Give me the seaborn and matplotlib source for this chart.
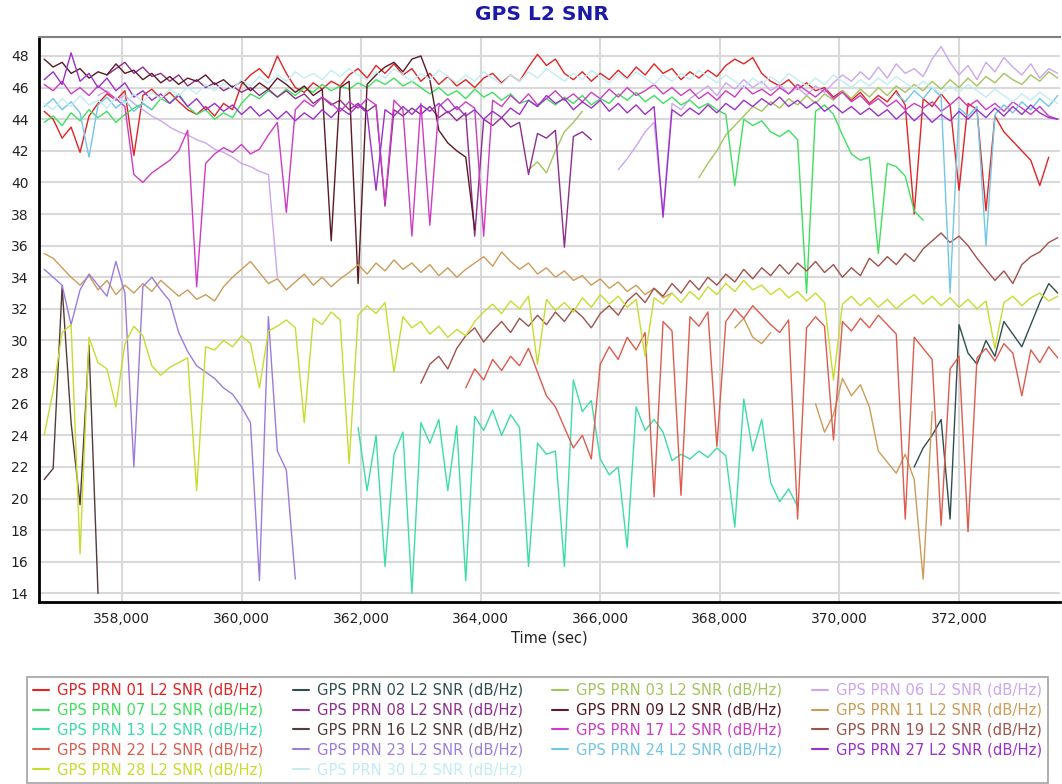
import matplotlib
matplotlib.use("Agg")
import matplotlib.pyplot as plt
import pandas as pd
import seaborn as sns
from matplotlib.lines import Line2D
from matplotlib.ticker import MultipleLocator, FuncFormatter

sns.set_style("white")
plt.rcParams['font.family'] = ['DejaVu Sans']

STEP = 150  # seconds between samples

# --- GPS L2 SNR samples (dB/Hz), start time of each pass in seconds of week ---
t01 = 356700
snr01 = [44.5, 44.0, 42.8, 43.5, 41.9, 44.2, 45.0, 45.6, 45.2, 45.8,
         41.7, 45.5, 45.9, 45.3, 45.7, 45.1, 44.6, 44.3, 44.8, 44.2,
         45.0, 44.6, 46.2, 46.8, 47.2, 46.6, 48.0, 46.9, 46.0, 45.7,
         46.3, 45.9, 46.4, 46.1, 46.8, 47.2, 46.6, 47.4, 46.9, 47.5,
         46.8, 47.2, 46.4, 46.9, 46.2, 46.7, 46.1, 46.5, 46.0, 46.6,
         46.9, 46.3, 46.8, 46.4, 47.3, 48.1, 47.4, 47.8, 46.9, 46.5,
         47.0, 46.4, 46.9, 46.5, 47.1, 46.6, 47.3, 46.8, 47.5, 46.9,
         47.2, 46.5, 47.0, 46.6, 47.1, 46.7, 47.4, 47.8, 47.5, 47.9,
         46.9, 46.4, 46.1, 46.5, 45.9, 46.3, 45.8, 46.0, 45.4, 45.8,
         45.2, 45.7, 45.0, 45.5, 45.1, 45.8, 44.9, 38.0, 45.3, 44.8,
         45.6, 44.9, 39.5, 45.0, 44.6, 38.2, 44.2, 43.2, 42.6, 42.0,
         41.4, 39.8, 41.6]

t02 = 371250
snr02 = [22.0, 23.2, 24.0, 25.0, 18.7, 31.0, 29.2, 28.5, 30.0, 29.0,
         31.2, 30.4, 29.6, 31.0, 32.4, 33.6, 33.0]

t03a = 364800
snr03a = [40.8, 41.3, 40.6, 42.0, 43.2, 43.8, 44.5]
t03b = 367650
snr03b = [40.3, 41.2, 42.0, 43.0, 43.6,
          44.2, 44.8, 44.5, 45.1, 44.7, 45.3, 44.9, 45.5,
          45.0, 45.6, 45.2, 45.8, 45.3, 45.9, 45.4, 46.0, 45.5, 46.1,
          45.7, 46.2, 45.8, 46.4, 45.9, 46.5, 46.0, 46.6, 46.1, 46.7,
          46.3, 46.9, 46.5, 46.2, 46.8, 46.4, 47.0, 46.6]

t06a = 357600
snr06a = [45.5, 45.8, 45.2, 45.5, 45.0, 44.6, 44.2, 43.9, 43.5, 43.2,
          43.0, 42.7, 42.5, 42.1, 41.9, 41.6, 41.2, 41.0, 40.7, 40.5, 34.0]
t06b = 366300
snr06b = [40.8, 41.5, 42.3, 43.2,
          43.8, 38.0, 45.0, 44.6, 45.3,
          45.7, 46.1, 45.5, 46.3, 45.9, 46.5, 46.0, 46.4,
          45.8, 46.2, 45.6, 46.0, 45.5, 46.1, 45.7, 46.3, 46.8, 46.4,
          47.0, 46.5, 47.3, 46.6, 47.5, 46.9, 47.2, 46.7, 47.8, 48.6,
          47.6, 46.8, 47.4, 46.5, 47.6, 47.0, 47.9, 47.3, 46.8, 47.5,
          46.6, 47.2, 46.9]

t07 = 356700
snr07 = [43.8, 44.2, 43.6, 44.4, 43.9, 44.6, 44.1, 44.5, 43.8, 44.3,
         44.7, 45.0, 44.6, 45.3, 45.0, 45.6, 44.8, 44.3, 44.6, 44.0,
         44.4, 44.1, 45.0, 45.6, 45.3, 45.8, 45.4, 45.9, 45.5, 46.0,
         45.7, 46.2, 45.8, 46.1, 45.9, 46.3, 46.0, 46.5, 46.2, 46.6,
         46.1, 46.4, 46.0, 45.6, 46.0, 45.5, 45.8, 45.3, 45.9, 45.4,
         45.7, 45.2, 45.6, 45.0, 45.2, 44.8, 45.3, 44.9, 45.4, 45.0,
         45.5, 44.9, 45.3, 45.0, 45.6, 45.2, 45.7, 45.1, 45.5, 45.0,
         45.4, 44.9, 45.2, 44.7, 45.0, 44.6, 44.3, 39.8, 44.0, 43.6,
         43.9, 43.2, 42.9, 43.3, 42.7, 33.0, 44.5, 44.9, 44.3, 43.0,
         41.8, 41.4, 41.6, 35.5, 41.2, 41.0, 40.4, 38.2, 37.6]

t08 = 357750
snr08 = [46.8, 47.2, 47.6, 46.9, 47.3, 46.7,
         46.9, 46.4, 46.8, 46.1, 46.5, 46.0, 46.3, 45.8,
         46.1, 45.7, 46.0, 45.5, 45.9, 45.4, 45.8,
         45.3, 45.6, 45.0, 45.4, 44.9, 45.2, 44.6, 45.0,
         44.5, 44.9, 38.5, 44.6, 44.2, 44.7, 44.3,
         44.8, 44.1, 44.5, 43.9, 44.4, 36.6, 44.0,
         43.6, 44.1, 43.5, 43.8, 40.5,
         43.1, 42.8, 43.3, 35.9, 42.9, 43.2, 42.7]

t09 = 356700
snr09 = [47.8, 47.3, 47.6, 46.9, 47.2, 46.6, 47.0, 46.8, 47.5, 46.9,
         47.1, 46.5, 46.9, 46.3, 46.7, 46.2, 46.6, 46.4, 46.8, 46.2,
         46.5, 46.0, 46.4, 45.8, 46.3, 45.9, 46.6, 46.2, 45.7, 46.1,
         45.5, 45.9, 36.3, 46.0, 46.4, 33.6, 46.2, 46.8, 47.3, 47.6,
         47.0, 47.8, 48.0, 46.5, 43.3, 42.5, 42.0, 41.6, 37.0]

t11a = 356700
snr11a = [35.5, 35.2, 34.6, 34.0, 33.5, 34.1,
          33.2, 33.8, 32.9, 33.5, 33.0,
          33.6, 33.1, 33.8, 33.3, 32.8, 33.2,
          32.6, 32.9, 32.5, 33.4,
          34.0, 34.5, 35.0, 34.3, 33.6,
          33.9, 33.2, 33.7, 34.2, 33.5, 34.0, 33.4, 33.9,
          34.3, 34.8, 34.2, 34.9, 34.4, 35.1, 34.5,
          34.9, 34.3, 34.8, 34.1, 34.6, 34.0, 34.5,
          34.9, 35.3, 34.7, 35.6, 35.0, 34.5, 34.9, 34.2,
          34.6, 34.0, 34.4, 33.8, 34.1, 33.5, 33.9,
          33.3, 33.7, 33.1, 33.5, 32.9, 33.3, 32.7, 33.0]
t11b = 368250
snr11b = [30.8, 31.4, 30.2, 29.8, 30.5]
t11c = 369600
snr11c = [26.0, 24.2, 25.3, 27.6, 26.5, 27.2, 25.8, 23.0, 22.3, 21.6,
          22.8, 21.2, 14.9, 25.5]

t13 = 361950
snr13 = [24.5, 20.5, 24.0, 15.7, 22.8, 24.2, 14.0, 24.8, 23.5, 25.0,
         20.5, 24.6, 14.8, 25.2, 24.3, 25.6, 24.0, 25.3, 24.5, 15.7,
         23.5, 22.8, 23.0, 15.7, 27.5, 25.5, 26.2, 22.5, 21.5, 22.0,
         16.9, 25.8, 24.3, 25.0, 24.2, 22.4, 22.8, 22.5, 23.0, 22.6,
         23.2, 22.7, 18.2, 26.3, 23.0, 25.0, 21.0, 19.8, 20.6, 19.5]

t16 = 356700
snr16 = [21.2, 21.9, 33.4, 24.8, 19.6, 29.7, 14.0]

t17 = 356700
snr17 = [46.2, 45.8, 46.4, 45.6, 46.0, 45.5, 46.1, 45.7, 45.3, 44.8,
         40.5, 40.0, 40.6, 41.0, 41.4, 42.0, 43.3, 33.4, 41.2, 41.8,
         42.2, 41.9, 42.4, 41.8, 42.1, 43.0, 43.8, 38.1, 44.6, 45.2,
         44.8, 45.4, 45.0, 44.5, 45.1, 44.7, 45.3, 44.9, 38.7, 45.2,
         44.6, 36.6, 45.0, 37.3, 44.8, 45.3, 44.6, 45.1, 44.7, 36.6,
         45.2, 44.8, 45.5, 45.0, 45.6, 44.9, 45.3, 45.8, 45.2, 45.6,
         45.1, 45.7, 45.3, 45.9, 45.4, 46.0, 45.5, 45.8, 46.2, 45.6,
         46.0, 45.5, 45.9, 45.3, 45.7, 45.2, 45.8, 45.4, 46.1, 45.6,
         45.9, 45.5, 46.0, 45.6, 46.2, 45.8, 45.4, 45.9, 45.3, 45.7,
         45.1, 45.5, 44.9, 45.3, 44.8, 45.2, 44.6, 45.0, 44.7, 45.1,
         44.5, 44.9, 45.4, 44.8, 45.2, 44.6, 45.0, 44.5, 45.1, 44.7,
         44.3, 44.8, 44.2, 44.0]

t19 = 363000
snr19 = [27.3, 28.5, 29.0, 28.2, 29.5, 30.3,
         30.8, 29.9, 30.6, 31.2, 30.5, 31.4, 30.9, 31.6,
         31.0, 31.8, 31.2, 32.0, 31.5, 30.8, 31.7,
         32.2, 31.6, 32.5, 33.0, 32.4, 33.3, 32.8, 33.6,
         33.0, 33.8, 33.2, 34.0, 33.5, 34.2, 33.7, 34.5,
         33.9, 34.6, 34.1, 34.8, 34.2, 34.9, 34.4, 35.0,
         34.3, 34.8, 34.0, 34.6, 34.1, 35.2, 34.7, 35.3,
         34.8, 35.5, 35.0, 35.8, 36.3, 36.8, 36.2, 36.6,
         36.0, 35.2, 34.5, 33.8, 34.4, 33.6,
         34.8, 35.3, 35.6, 36.2, 36.5]

t22 = 363750
snr22 = [27.0, 28.2, 27.5, 28.8, 28.1, 29.0,
         28.4, 29.5, 28.0, 26.5, 25.8,
         24.5, 23.2, 24.0, 22.5,
         28.5, 29.6, 28.8, 30.2, 29.4,
         30.5, 20.1, 31.2,
         30.6, 20.2, 31.5, 30.9,
         31.8, 23.3, 31.2, 32.0,
         31.4, 32.2, 31.6, 31.0, 30.5, 31.3,
         18.7,
         30.8, 31.5, 30.9, 23.7, 31.2, 30.6,
         31.4, 30.8, 31.6, 31.0, 30.4,
         18.7,
         30.2, 29.5, 28.8,
         18.3,
         28.2, 29.0, 17.9, 28.9,
         29.5, 28.7, 29.8, 29.2, 26.5, 29.4, 28.6, 29.6, 28.9]

t23 = 356700
snr23 = [34.5, 34.0, 33.5, 31.0, 33.2, 34.2, 33.5, 32.8, 35.0, 33.0,
         22.0, 33.4, 34.0, 33.2, 32.5, 30.5, 29.3, 28.4, 28.0, 27.6,
         27.0, 26.6, 25.8, 24.8, 14.8, 31.5, 23.0, 21.8, 14.9]

t24a = 356700
snr24a = [44.8, 45.3, 44.6, 45.1, 44.4, 41.6, 44.9, 45.4, 44.7, 45.2,
          44.5, 45.0, 44.6]
t24b = 370950
snr24b = [45.6, 45.1, 45.8, 45.3, 46.0, 45.4, 33.0, 44.7, 44.2, 44.8,
          36.0, 44.3, 44.9, 44.4, 45.1, 44.6, 45.3, 44.8, 45.5]

t27 = 356700
snr27 = [46.5, 47.0, 46.2, 48.2, 46.4, 46.9, 46.0, 46.6, 45.8, 46.3,
         45.4, 45.8, 45.2, 45.6, 45.0, 45.5, 44.8, 45.3, 44.6, 45.0,
         44.5, 44.9, 44.3, 44.8, 44.2, 44.6, 44.0, 44.5, 43.9, 44.4,
         44.0, 44.6, 44.1, 44.7, 44.3, 44.9, 44.4, 39.5, 44.6, 44.2,
         44.8, 44.3, 44.9, 44.5, 45.0, 44.4, 44.8, 44.2, 44.6, 44.0,
         44.5, 44.1, 44.7, 44.3, 45.2, 44.8, 45.5, 45.0, 45.3, 44.6,
         45.1, 44.7, 45.2, 44.5, 45.0, 44.4, 44.9, 44.3, 44.8, 37.8,
         44.6, 44.2, 44.7, 44.3, 44.9, 44.4, 45.0, 44.6, 45.2, 44.8,
         45.3, 44.9, 45.4, 44.8, 45.2, 44.7, 45.1, 44.5, 44.9, 44.4,
         44.8, 44.3, 44.7, 44.2, 44.6, 44.0, 44.5, 43.9, 44.4, 43.8,
         44.3, 43.9, 44.5, 44.0, 44.6, 44.1, 44.7, 44.2, 44.8, 44.3,
         44.9, 44.4, 44.1, 44.0]

t28 = 356700
snr28 = [24.0, 26.8, 30.5, 31.0, 16.5, 30.2, 28.6, 28.2, 25.8, 29.8,
         30.9, 30.3, 28.4, 27.8, 28.3, 28.6, 28.9, 20.5, 29.6, 29.4,
         30.0, 29.6, 30.3, 29.8, 27.0, 30.6, 30.9, 31.3, 30.8, 24.8,
         31.4, 31.0, 31.8, 31.3, 22.2, 31.6, 32.2, 31.7, 32.4, 28.0,
         31.5, 30.8, 31.2, 30.4, 30.9, 30.2, 30.7, 30.3, 31.2, 31.8,
         32.3, 31.7, 32.5, 32.0, 32.8, 28.5, 32.6, 31.9, 32.4, 31.8,
         32.7, 32.1, 32.9, 32.3, 32.8, 32.1, 32.6, 29.0, 32.7, 32.3,
         33.0, 32.4, 33.1, 32.6, 33.4, 32.9, 33.6, 33.1, 33.8, 33.2,
         33.5, 32.9, 33.3, 32.7, 33.1, 32.5, 33.0, 32.4, 27.5, 32.3,
         32.8, 32.2, 32.7, 32.1, 32.6, 32.0, 32.5, 32.9, 32.3, 32.8,
         32.2, 32.7, 32.1, 32.6, 32.0, 32.5, 29.5, 32.4, 32.8, 32.2,
         32.7, 33.0, 32.5, 32.8]

t30 = 356700
snr30 = [45.0, 44.6, 45.3, 44.8, 45.5, 44.9, 45.2, 44.7, 45.4, 45.0,
         45.6, 45.1, 45.7, 45.3, 45.9, 45.5, 46.0, 45.6, 46.2, 45.8,
         46.3, 45.9, 46.5, 46.1, 46.7, 46.3, 46.8, 46.4, 47.0, 46.6,
         46.9, 46.5, 47.1, 46.7, 47.2, 46.8, 46.5, 47.0, 46.6, 47.2,
         46.8, 46.4, 46.9, 46.5, 47.1, 46.7, 46.3, 46.8, 46.4, 47.0,
         46.6, 46.2, 46.8, 46.4, 47.0, 46.6, 47.2, 46.8, 46.4, 46.9,
         46.5, 47.1, 46.7, 46.3, 46.9, 46.5, 47.0, 46.6, 46.2, 46.8,
         46.4, 46.9, 46.5, 47.1, 46.7, 46.3, 46.8, 46.4, 46.0, 46.6,
         46.2, 46.7, 46.3, 46.9, 46.5, 46.1, 46.6, 46.2, 46.8, 46.4,
         46.0, 46.5, 46.1, 46.6, 46.2, 46.7, 46.3, 45.9, 46.4, 46.0,
         45.6, 46.1, 45.7, 46.2, 45.8, 45.4, 45.9, 45.5, 45.1, 45.6,
         45.2, 45.7, 45.3, 45.0]

prn_order = ["01", "02", "03", "06", "07", "08", "09", "11", "13",
             "16", "17", "19", "22", "23", "24", "27", "28", "30"]
colors = {"01": "#e02424", "02": "#2f4f4f", "03": "#a4c45c", "06": "#cca6ee",
          "07": "#3ee05e", "08": "#8e2e8e", "09": "#5a1a24", "11": "#cc9c58",
          "13": "#3cdcaa", "16": "#553a3a", "17": "#cc3cc4", "19": "#a0524c",
          "22": "#dc5c4e", "23": "#9c7cda", "24": "#72c6e6", "27": "#9c30cc",
          "28": "#c8dc2e", "30": "#c2ecf2"}

segments = [
    ("01", t01, snr01), ("02", t02, snr02), ("03", t03a, snr03a), ("03", t03b, snr03b),
    ("06", t06a, snr06a), ("06", t06b, snr06b), ("07", t07, snr07), ("08", t08, snr08),
    ("09", t09, snr09), ("11", t11a, snr11a), ("11", t11b, snr11b), ("11", t11c, snr11c),
    ("13", t13, snr13), ("16", t16, snr16), ("17", t17, snr17), ("19", t19, snr19),
    ("22", t22, snr22), ("23", t23, snr23), ("24", t24a, snr24a), ("24", t24b, snr24b),
    ("27", t27, snr27), ("28", t28, snr28), ("30", t30, snr30),
]

rows = []
for k, (prn, t_start, vals) in enumerate(segments):
    for i, v in enumerate(vals):
        rows.append({"prn": prn, "seg": k, "t": t_start + STEP * i, "snr": v})
df = pd.DataFrame(rows)

fig = plt.figure(figsize=(10.62, 7.84), dpi=100)
ax = fig.add_axes([0.0367, 0.2325, 0.9614, 0.7207])

sns.lineplot(data=df, x="t", y="snr", hue="prn", units="seg", estimator=None,
             hue_order=prn_order, palette=colors, legend=False, sort=False,
             linewidth=1.0, ax=ax)

ax.set_xlim(356613, 373688)
ax.set_ylim(13.47, 49.22)
ax.xaxis.set_major_locator(MultipleLocator(2000))
ax.xaxis.set_minor_locator(MultipleLocator(400))
ax.yaxis.set_major_locator(MultipleLocator(2))
ax.yaxis.set_minor_locator(MultipleLocator(0.4))
ax.xaxis.set_major_formatter(FuncFormatter(lambda v, p: f"{int(v):,}"))
ax.grid(True, which="major", color="#d9d9d9", linewidth=1.5)
ax.set_axisbelow(True)
ax.tick_params(which="major", direction="out", length=4, width=1, colors="black",
               labelsize=10, labelcolor="#222222")
ax.tick_params(which="minor", direction="out", length=2.5, width=0.8, colors="#444444")
for side in ["left", "bottom"]:
    ax.spines[side].set_color("black")
    ax.spines[side].set_linewidth(2)
ax.spines["top"].set_color("#808080")
ax.spines["top"].set_linewidth(1.5)
ax.spines["right"].set_visible(False)
ax.set_xlabel("Time (sec)", fontsize=10.5, labelpad=3, color="#222222")
ax.set_ylabel("")

fig.text(0.51, 0.981, "GPS L2 SNR", ha="center", va="center", fontsize=14.5,
         fontweight="bold", color="#1a1aa6")

# legend filled row-wise like the original (4 columns)
leg_order = ["01", "07", "13", "22", "28", "02", "08", "16", "23", "30",
             "03", "09", "17", "24", "06", "11", "19", "27"]
handles = [Line2D([0], [0], color=colors[p], lw=1.5) for p in leg_order]
labels = [f"GPS PRN {p} L2 SNR (dB/Hz)" for p in leg_order]
leg = fig.legend(handles, labels, loc="upper left",
                 bbox_to_anchor=(0.0254, 0.0, 0.9614, 0.1365), mode="expand",
                 ncol=4, frameon=True, fancybox=False, fontsize=10.6,
                 handlelength=1.1, handletextpad=0.55, columnspacing=1.6,
                 labelspacing=0.33, borderpad=0.4, borderaxespad=0)
leg.get_frame().set_edgecolor("#8a8a8a")
leg.get_frame().set_linewidth(1.2)
for txt, h in zip(leg.get_texts(), handles):
    txt.set_color(h.get_color())

fig.savefig("out.png", dpi=100)
